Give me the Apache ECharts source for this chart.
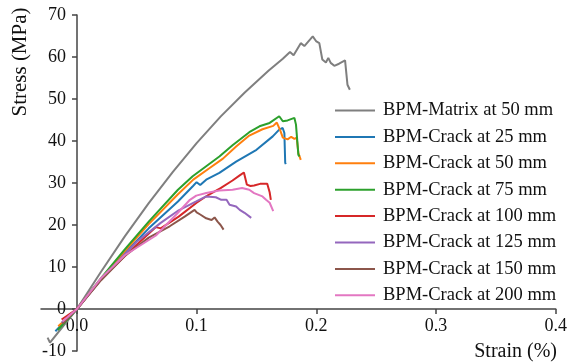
<!DOCTYPE html>
<html><head><meta charset="utf-8">
<script src="https://cdn.jsdelivr.net/npm/echarts@6/dist/echarts.min.js"></script>
<style>html,body{margin:0;padding:0;background:#fff}#c{width:570px;height:364px}</style>
</head><body><div id="c"></div>
<script>
const seriesNames = ['BPM-Matrix at 50 mm','BPM-Crack at 25 mm','BPM-Crack at 50 mm','BPM-Crack at 75 mm','BPM-Crack at 100 mm','BPM-Crack at 125 mm','BPM-Crack at 150 mm','BPM-Crack at 200 mm'];
const xTicks = [0, 0.1, 0.2, 0.3, 0.4];
const yTicks = [-10, 0, 10, 20, 30, 40, 50, 60, 70];

const matrixStrain = [-0.0245,-0.0225,0,0.02,0.04,0.06,0.08,0.1,0.12,0.14,0.16,0.172,0.178,0.181,0.187,0.19,0.197,0.2,0.2025,0.205,0.208,0.21,0.212,0.215,0.219,0.224,0.226,0.228];
const matrixStress = [-6.8,-8.0,0,8.8,17.3,25.2,32.6,39.5,45.8,51.5,56.7,59.6,61.2,60.4,63.3,62.6,64.9,63.7,63.3,59.4,58.7,59.8,58.6,57.9,58.4,59.2,53.4,52.2];

const c25Strain = [-0.018,0,0.02,0.04,0.06,0.0844,0.097,0.1,0.103,0.108,0.119,0.133,0.15,0.1636,0.169,0.1719,0.1733,0.174,0.1745];
const c25Stress = [-5.3,0,7.0,13.3,19.2,25.6,29.3,30.2,29.5,30.8,32.4,35.1,37.9,41.1,42.7,43.1,41.9,34.8,34.5];

const c50Strain = [-0.0156,0,0.02,0.04,0.06,0.084,0.0972,0.11,0.122,0.133,0.144,0.155,0.164,0.167,0.170,0.172,0.176,0.179,0.1817,0.1836,0.185,0.187];
const c50Stress = [-4.1,0,7.1,13.8,20.2,27.2,30.8,33.4,35.8,38.7,41.3,42.8,43.6,44.4,42.4,40.8,40.4,41.0,40.5,40.8,37.1,35.5];

const c75Strain = [-0.016,0,0.02,0.04,0.06,0.0844,0.0967,0.108,0.119,0.13,0.144,0.1525,0.161,0.169,0.172,0.176,0.1817,0.183,0.185,0.186];
const c75Stress = [-5.0,0,7.3,14.2,20.8,28.4,31.6,34.0,36.3,39.0,42.1,43.5,44.3,45.9,44.7,44.9,45.5,43.9,36.7,36.3];

const c100Strain = [-0.0128,0,0.02,0.045,0.066,0.07,0.085,0.1,0.11,0.12,0.13,0.136,0.1395,0.142,0.145,0.148,0.153,0.159,0.161,0.162];
const c100Stress = [-2.5,0,7.0,14.0,19.5,19.2,22.0,25.3,27.2,28.8,30.6,31.8,32.5,29.6,29.3,29.4,29.8,29.8,27.8,26.0];

const c125Strain = [-0.0128,0,0.02,0.05,0.07,0.085,0.0997,0.108,0.116,0.1206,0.125,0.1275,0.133,0.136,0.14,0.1456];
const c125Stress = [-3.3,0,7.0,16.0,20.5,23.5,25.6,26.8,26.6,26.0,26.0,24.8,24.4,23.6,22.9,21.7];

const c150Strain = [-0.012,0,0.02,0.04,0.06,0.0775,0.09,0.0983,0.1,0.103,0.108,0.1125,0.115,0.1175,0.12,0.1225];
const c150Stress = [-3.5,0,6.8,12.6,17.0,19.7,22.0,23.6,23.0,22.5,21.6,21.2,21.8,20.8,20.0,18.9];

const c200Strain = [-0.012,0,0.02,0.04,0.066,0.084,0.0944,0.0997,0.108,0.119,0.13,0.138,0.144,0.148,0.155,0.158,0.161,0.164];
const c200Stress = [-3.0,0,7.3,12.8,17.5,22.8,26.0,27.0,27.6,28.2,28.4,28.8,28.4,27.6,26.8,26.0,25.3,23.3];

const strains = [matrixStrain,c25Strain,c50Strain,c75Strain,c100Strain,c125Strain,c150Strain,c200Strain];
const stresses = [matrixStress,c25Stress,c50Stress,c75Stress,c100Stress,c125Stress,c150Stress,c200Stress];
const colors = ['#7f7f7f','#1f77b4','#ff7f0e','#2ca02c','#d62728','#9467bd','#8c564b','#e377c2'];

const FONT = 'Liberation Serif';
const chart = echarts.init(document.getElementById('c'), null, {renderer:'canvas'});
const series = seriesNames.map((n,i)=>({
  name:n, type:'line', symbol:'none', showSymbol:false, animation:false,
  data: strains[i].map((x,k)=>[x, stresses[i][k]]),
  lineStyle:{color:colors[i], width:2}, itemStyle:{color:colors[i]}
}));
chart.setOption({
  animation:false,
  backgroundColor:'#fff',
  grid:{left:41,right:13,top:15,bottom:13,containLabel:false},
  xAxis:{type:'value',min:-0.03,max:0.4,offset:-42,
    axisLine:{onZero:false,lineStyle:{color:'#444',width:1.5}},
    axisTick:{show:true,length:5,inside:false,customValues:xTicks,lineStyle:{color:'#444',width:1.5}},
    axisLabel:{customValues:xTicks,margin:8,color:'#111',fontFamily:FONT,fontSize:18,formatter:v=>v.toFixed(1)},
    splitLine:{show:false}},
  yAxis:{type:'value',min:-10,max:70,interval:10,offset:-36,
    axisLine:{onZero:false,lineStyle:{color:'#444',width:1.5}},
    axisTick:{show:true,length:5,lineStyle:{color:'#444',width:1.5}},
    axisLabel:{margin:11,color:'#111',fontFamily:FONT,fontSize:18},
    splitLine:{show:false}},
  legend:{orient:'vertical',left:330,top:96,itemWidth:40,itemHeight:12,itemGap:7.4,
    icon:'path://M0,5 L40,5 L40,7 L0,7 Z',
    textStyle:{fontFamily:FONT,fontSize:18.5,color:'#111',padding:[0,0,0,3]},
    data:seriesNames},
  graphic:[
    {type:'text',x:20,y:62,rotation:Math.PI/2,style:{text:'Stress (MPa)',font:'21px "Liberation Serif"',fill:'#111',align:'center',verticalAlign:'middle'}},
    {type:'text',x:557,y:352,style:{text:'Strain (%)',font:'20px "Liberation Serif"',fill:'#111',align:'right',verticalAlign:'middle'}}
  ],
  series
});
</script></body></html>
